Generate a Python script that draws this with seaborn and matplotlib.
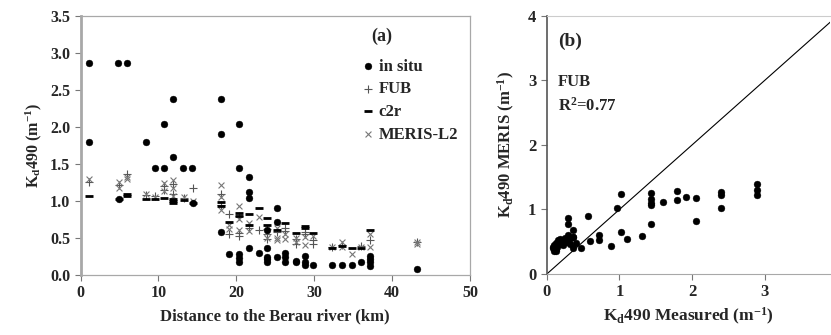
import numpy as np
import pandas as pd
import matplotlib
matplotlib.use("Agg")
import matplotlib.pyplot as plt
import seaborn as sns

# ---------------- data: panel (a) ----------------
insitu_x = [1.1, 1.1, 4.8, 4.9, 5.9, 8.4, 9.5, 10.7, 10.7, 11.9, 11.9, 13.2, 14.3, 14.4,
            18.0, 18.0, 18.0, 19.1, 20.4, 20.4, 20.4, 20.4, 20.4,
            21.6, 21.6, 21.6, 21.6, 22.9, 24.0, 24.0, 24.0, 24.0, 24.0,
            25.2, 25.2, 25.2, 26.3, 26.3, 26.3, 27.6, 27.6, 28.8, 28.8, 28.8, 29.9,
            32.3, 33.6, 34.8, 36.0, 37.2, 37.2, 37.2, 37.2, 43.2]
insitu_y = [2.86, 1.79, 2.86, 1.03, 2.86, 1.79, 1.44, 2.04, 1.44, 2.38, 1.59, 1.44, 1.44, 0.97,
            2.38, 1.91, 0.58, 0.29, 2.04, 1.44, 0.29, 0.23, 0.17,
            1.32, 1.12, 1.04, 0.37, 0.30, 0.61, 0.37, 0.25, 0.22, 0.17,
            0.90, 0.72, 0.24, 0.30, 0.24, 0.17, 0.19, 0.17, 0.26, 0.17, 0.14, 0.14,
            0.13, 0.13, 0.14, 0.17, 0.26, 0.22, 0.17, 0.12, 0.08]

fub_x = [1.1, 4.9, 5.9, 8.4, 9.5, 10.7, 10.7, 11.9, 11.9, 13.3, 14.4,
         18.0, 18.0, 19.1, 19.1, 20.4, 20.4, 20.4, 21.6, 22.9, 24.0, 24.0, 24.0,
         25.2, 26.3, 26.3, 27.6, 27.6, 28.8, 28.8, 29.9, 29.9, 32.3, 33.6, 36.0, 37.2, 43.2]
fub_y = [1.26, 1.22, 1.36, 1.08, 1.07, 1.20, 1.15, 1.23, 1.10, 1.04, 1.17,
         1.10, 0.95, 0.83, 0.55, 0.80, 0.57, 0.53, 0.64, 0.61, 0.62, 0.55, 0.48,
         0.58, 0.64, 0.59, 0.48, 0.42, 0.58, 0.55, 0.47, 0.42, 0.38, 0.41, 0.39, 0.47, 0.44]

c2r_x = [1.1, 4.9, 5.9, 5.9, 8.4, 9.5, 10.7, 11.9, 11.9, 11.9, 13.3, 14.4,
         18.0, 18.0, 19.1, 20.4, 20.4, 21.6, 21.6, 22.9, 24.0, 24.0, 25.2, 26.3,
         27.6, 28.8, 28.8, 29.9, 32.3, 33.6, 34.8, 36.0, 37.2]
c2r_y = [1.07, 1.03, 1.10, 1.07, 1.03, 1.03, 1.04, 1.03, 1.00, 0.97, 1.01, 0.97,
         0.98, 0.93, 0.72, 0.84, 0.80, 0.82, 0.68, 0.90, 0.77, 0.68, 0.61, 0.70,
         0.57, 0.66, 0.64, 0.57, 0.37, 0.39, 0.37, 0.37, 0.61]

meris_x = [1.1, 4.9, 4.9, 5.9, 5.9, 8.4, 9.5, 10.7, 10.7, 11.9, 11.9, 11.9, 13.3, 14.4,
           18.0, 18.0, 18.0, 19.1, 19.1, 20.4, 20.4, 20.4, 21.6, 21.6, 22.9, 24.0, 24.0,
           25.2, 25.2, 25.2, 26.3, 26.3, 27.6, 27.6, 28.8, 28.8, 29.9, 32.3, 33.6, 33.6,
           34.8, 36.0, 37.2, 37.2, 43.2, 43.2]
meris_y = [1.29, 1.25, 1.18, 1.33, 1.30, 1.10, 1.06, 1.24, 1.13, 1.28, 1.18, 1.07, 1.06, 1.00,
           1.22, 1.05, 0.88, 0.68, 0.62, 0.93, 0.75, 0.61, 0.70, 0.60, 0.79, 0.58, 0.50,
           0.63, 0.50, 0.47, 0.55, 0.48, 0.50, 0.45, 0.51, 0.40, 0.53, 0.38, 0.44, 0.38,
           0.28, 0.38, 0.55, 0.38, 0.45, 0.42]

# ---------------- data: panel (b) ----------------
meas_x = [0.08, 0.10, 0.12, 0.12, 0.14, 0.15, 0.17, 0.18, 0.20, 0.22, 0.23, 0.25, 0.27,
          0.30, 0.32, 0.10, 0.13, 0.09, 0.29, 0.29, 0.29, 0.36, 0.36, 0.36, 0.36, 0.40,
          0.47, 0.57, 0.60, 0.72, 0.72, 0.89, 0.96, 1.02, 1.02, 1.11, 1.31, 1.43, 1.43,
          1.43, 1.43, 1.43, 1.60, 1.79, 1.79, 1.92, 2.05, 2.05, 2.40, 2.40, 2.40, 2.89,
          2.89, 2.89]
meris_b = [0.40, 0.45, 0.38, 0.48, 0.42, 0.52, 0.46, 0.55, 0.50, 0.45, 0.53, 0.56, 0.50,
           0.52, 0.47, 0.35, 0.35, 0.42, 0.87, 0.77, 0.60, 0.68, 0.58, 0.57, 0.41, 0.48,
           0.41, 0.90, 0.51, 0.60, 0.53, 0.44, 1.02, 1.24, 0.65, 0.55, 0.59, 1.26, 1.16,
           1.10, 1.07, 0.77, 1.11, 1.29, 1.15, 1.20, 1.17, 0.82, 1.27, 1.23, 1.03, 1.39,
           1.30, 1.22]

one_to_one = [0, 4]

# ---------------- style ----------------
sns.set_style("ticks")
plt.rcParams["font.family"] = ["Liberation Serif", "DejaVu Serif"]
plt.rcParams["font.weight"] = "bold"
plt.rcParams["mathtext.fontset"] = "custom"
plt.rcParams["mathtext.rm"] = "Liberation Serif:bold"
plt.rcParams["mathtext.it"] = "Liberation Serif:bold"
plt.rcParams["mathtext.bf"] = "Liberation Serif:bold"

fig = plt.figure(figsize=(8.31, 3.35), dpi=100)
ax1 = fig.add_axes([0.097, 0.179, 0.4685, 0.774])
ax2 = fig.add_axes([0.658, 0.182, 0.341, 0.771])

spine_gray = "#a8a8a8"

# ---------------- panel (a) ----------------
sns.scatterplot(x=fub_x, y=fub_y, ax=ax1, marker="+", color="#555555", s=30,
                linewidth=0.8, label="FUB", zorder=3)
sns.scatterplot(x=meris_x, y=meris_y, ax=ax1, marker="x", color="#777777", s=18,
                linewidth=0.8, label="MERIS-L2", zorder=3)
sns.scatterplot(x=c2r_x, y=c2r_y, ax=ax1, marker="_", color="black", s=40,
                linewidth=2.0, label="c2r", zorder=4)
sns.scatterplot(x=insitu_x, y=insitu_y, ax=ax1, marker="o", color="black", s=24,
                edgecolor="black", linewidth=0.3, label="in situ", zorder=5)

ax1.set_xlim(0, 50)
ax1.set_ylim(0, 3.5)
ax1.set_xticks([0, 10, 20, 30, 40, 50])
ax1.set_yticks(np.arange(0, 3.51, 0.5))
ax1.set_yticklabels([f"{v:.1f}" for v in np.arange(0, 3.51, 0.5)])
ax1.tick_params(labelsize=11.5, length=4, color="#777777", width=0.8)
for lab in ax1.get_xticklabels() + ax1.get_yticklabels():
    lab.set_fontweight("bold")
ax1.set_xlabel("Distance to the Berau river (km)", fontsize=12, fontweight="bold", labelpad=5)
ax1.set_ylabel("K$_\\mathrm{d}$490 (m$^{-1}$)", fontsize=11.5, fontweight="bold", labelpad=4)
for side in ["top", "right", "bottom"]:
    ax1.spines[side].set_visible(True)
    ax1.spines[side].set_color(spine_gray)
    ax1.spines[side].set_linewidth(0.9)
ax1.spines["left"].set_color(spine_gray)
ax1.spines["left"].set_linewidth(2.0)

handles, labels = ax1.get_legend_handles_labels()
order = ["in situ", "FUB", "c2r", "MERIS-L2"]
hmap = dict(zip(labels, handles))
ax1.legend([hmap[k] for k in order], order, loc="upper right", bbox_to_anchor=(1.0, 0.88),
           frameon=False, handletextpad=0.2, handlelength=0.9, labelspacing=0.4,
           prop={"family": "Liberation Serif", "weight": "bold", "size": 12},
           borderaxespad=0.3)
ax1.text(38.7, 3.22, "(a)", fontsize=13, fontweight="bold", ha="center", va="center")

# ---------------- panel (b) ----------------
sns.lineplot(x=one_to_one, y=one_to_one, ax=ax2, color="black", linewidth=0.8)
sns.scatterplot(x=meas_x, y=meris_b, ax=ax2, marker="o", color="black", s=24,
                edgecolor="black", linewidth=0.3, zorder=5)
ax2.set_xlim(0, 3.9)
ax2.set_ylim(0, 4)
ax2.set_xticks([0, 1, 2, 3])
ax2.set_yticks([0, 1, 2, 3, 4])
ax2.tick_params(labelsize=12, length=4, color="#777777", width=0.8)
for lab in ax2.get_xticklabels() + ax2.get_yticklabels():
    lab.set_fontweight("bold")
ax2.set_xlabel("K$_\\mathrm{d}$490 Measured (m$^{-1}$)", fontsize=12.5, fontweight="bold", labelpad=4)
ax2.set_ylabel("K$_\\mathrm{d}$490 MERIS (m$^{-1}$)", fontsize=12, fontweight="bold", labelpad=8)
ax2.spines["right"].set_visible(False)
ax2.spines["top"].set_visible(True)
ax2.spines["top"].set_color("#cccccc")
ax2.spines["bottom"].set_color(spine_gray)
ax2.spines["left"].set_color("#555555")
ax2.spines["left"].set_linewidth(1.2)
ax2.text(0.15, 3.6, "(b)", fontsize=14, fontweight="bold", ha="left", va="center")
ax2.text(0.15, 2.98, "FUB", fontsize=12, fontweight="bold", ha="left", va="center")
ax2.text(0.15, 2.6, "R$^{2}$=0.77", fontsize=12, fontweight="bold", ha="left", va="center")

fig.savefig("out.png", dpi=100)
